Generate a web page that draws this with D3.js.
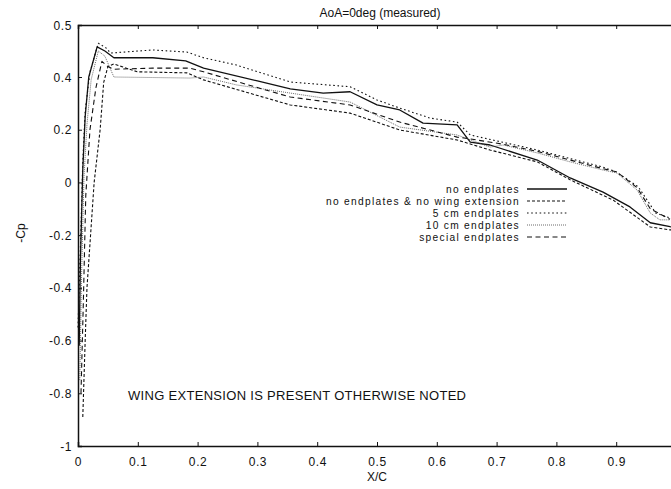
<!DOCTYPE html>
<html><head><meta charset="utf-8">
<script src="https://cdn.jsdelivr.net/npm/d3@7"></script>
<style>body{margin:0;background:#fff;} svg{display:block;} text{font-family:"Liberation Sans",Arial,sans-serif;fill:#111;}</style>
</head><body><div id="chart"></div>
<script>
// ---- data ----
const title = "AoA=0deg (measured)";
const xLabel = "X/C";
const yLabel = "-Cp";
const note = "WING EXTENSION IS PRESENT OTHERWISE NOTED";
const xTicks = [0, 0.1, 0.2, 0.3, 0.4, 0.5, 0.6, 0.7, 0.8, 0.9];
const xTickLabels = ["0", "0.1", "0.2", "0.3", "0.4", "0.5", "0.6", "0.7", "0.8", "0.9"];
const yTicks = [-1, -0.8, -0.6, -0.4, -0.2, 0, 0.2, 0.4, 0.5];
const yTickLabels = ["-1", "-0.8", "-0.6", "-0.4", "-0.2", "0", "0.2", "0.4", "0.5"];
const seriesNames = ["no endplates", "no endplates & no wing extension", "5 cm endplates", "10 cm endplates", "special endplates"];

const xNoEnd = [0.002, 0.004, 0.008, 0.012, 0.018, 0.032, 0.045, 0.06, 0.125, 0.18, 0.21, 0.3, 0.355, 0.41, 0.455, 0.5, 0.538, 0.577, 0.634, 0.656, 0.689, 0.768, 0.823, 0.878, 0.923, 0.957, 0.99, 1.0];
const cpNoEnd = [-0.62, -0.3, 0.05, 0.25, 0.40, 0.458, 0.45, 0.437, 0.437, 0.431, 0.417, 0.385, 0.355, 0.339, 0.344, 0.294, 0.275, 0.225, 0.218, 0.153, 0.142, 0.085, 0.017, -0.037, -0.093, -0.153, -0.168, -0.17];

const xNoExt = [0.008, 0.012, 0.015, 0.027, 0.037, 0.043, 0.05, 0.06, 0.099, 0.182, 0.21, 0.3, 0.355, 0.455, 0.538, 0.634, 0.689, 0.768, 0.823, 0.895, 0.957, 0.99, 1.0];
const cpNoExt = [-0.89, -0.6, -0.4, 0.0, 0.2, 0.38, 0.42, 0.425, 0.41, 0.408, 0.389, 0.33, 0.294, 0.263, 0.199, 0.161, 0.123, 0.078, 0.01, -0.067, -0.169, -0.18, -0.18];

const x5cm = [0.0, 0.004, 0.008, 0.012, 0.02, 0.034, 0.048, 0.054, 0.125, 0.182, 0.21, 0.265, 0.355, 0.455, 0.5, 0.538, 0.589, 0.634, 0.656, 0.768, 0.878, 0.9, 0.937, 0.966, 0.99, 1.0];
const cp5cm = [-0.55, -0.25, 0.08, 0.27, 0.41, 0.465, 0.455, 0.446, 0.452, 0.448, 0.437, 0.423, 0.381, 0.363, 0.313, 0.282, 0.244, 0.229, 0.18, 0.123, 0.058, 0.04, -0.017, -0.116, -0.135, -0.14];

const x10cm = [0.003, 0.006, 0.01, 0.015, 0.022, 0.034, 0.045, 0.06, 0.125, 0.187, 0.21, 0.265, 0.355, 0.455, 0.538, 0.634, 0.689, 0.711, 0.768, 0.823, 0.878, 0.901, 0.935, 0.957, 0.973, 0.99];
const cp10cm = [-0.75, -0.35, 0.02, 0.22, 0.39, 0.45, 0.44, 0.40, 0.398, 0.396, 0.40, 0.37, 0.339, 0.305, 0.21, 0.18, 0.134, 0.142, 0.112, 0.078, 0.047, 0.036, -0.029, -0.116, -0.142, -0.142];

const xSpecial = [0.005, 0.009, 0.013, 0.02, 0.03, 0.04, 0.05, 0.06, 0.125, 0.187, 0.21, 0.3, 0.355, 0.455, 0.538, 0.634, 0.656, 0.711, 0.768, 0.823, 0.878, 0.901, 0.935, 0.957, 0.99];
const cpSpecial = [-0.8, -0.45, -0.05, 0.2, 0.36, 0.43, 0.42, 0.415, 0.417, 0.417, 0.41, 0.36, 0.324, 0.294, 0.229, 0.172, 0.165, 0.145, 0.118, 0.085, 0.052, 0.04, -0.02, -0.1, -0.14];

const seriesX = [xNoEnd, xNoExt, x5cm, x10cm, xSpecial];
const seriesCp = [cpNoEnd, cpNoExt, cp5cm, cp10cm, cpSpecial];

// ---- layout / style ----
const W = 671, H = 489;
const dashes = [null, "3,2", "1.6,2.6", "1,1", "5,3.5"];
const widths = [1.3, 1.1, 1.1, 0.8, 1.1];
const colors = ["#111", "#111", "#111", "#444", "#111"];

const svg = d3.select("#chart").append("svg").attr("width", W).attr("height", H);

const x = d3.scaleLinear().domain([0, 1]).range([78, 676]);
// piecewise scale matching the printed axis (0.5 label sits one 0.2-step above 0.4)
const y = d3.scaleLinear().domain([-1, 0.4, 0.5]).range([446, 77, 25]);

const g = svg.append("g");

const bottomAxis = d3.axisBottom(x).tickValues(xTicks).tickFormat((d, i) => xTickLabels[i]).tickSize(-4).tickPadding(11);
const gb = g.append("g").attr("transform", `translate(0,${y(-1)})`).call(bottomAxis);
const topAxis = d3.axisTop(x).tickValues(xTicks.slice(1)).tickFormat("").tickSize(-4);
const gt = g.append("g").attr("transform", `translate(0,${y(0.5)})`).call(topAxis);
const leftAxis = d3.axisLeft(y).tickValues(yTicks).tickFormat((d, i) => yTickLabels[i]).tickSize(-4).tickPadding(6);
const gl = g.append("g").attr("transform", `translate(${x(0)},0)`).call(leftAxis);
[gb, gt, gl].forEach(a => {
  a.select(".domain").attr("stroke", "#111").attr("stroke-width", 1.5);
  a.selectAll(".tick line").attr("stroke", "#111").attr("stroke-width", 1);
  a.selectAll("text").attr("font-size", 12).attr("letter-spacing", 0.6).attr("fill", "#111").attr("font-family", "Liberation Sans, Arial, sans-serif");
});
gl.selectAll(".tick text").attr("dy", "0.34em");

// curves
const line = d3.line().x(d => x(d[0])).y(d => y(d[1]));
seriesNames.forEach((name, i) => {
  const pts = seriesX[i].map((v, k) => [v, seriesCp[i][k]]);
  g.append("path").datum(pts).attr("d", line)
    .attr("fill", "none").attr("stroke", colors[i]).attr("stroke-width", widths[i])
    .attr("stroke-dasharray", dashes[i]).attr("stroke-linejoin", "round");
});

// legend
const lg = svg.append("g");
seriesNames.forEach((name, i) => {
  const yy = 189 + i * 12;
  lg.append("text").attr("x", 520).attr("y", yy).attr("dy", "0.35em").attr("text-anchor", "end")
    .attr("font-size", 10.2).attr("letter-spacing", 1.3).text(name);
  lg.append("line").attr("x1", 527).attr("x2", 567).attr("y1", yy).attr("y2", yy)
    .attr("stroke", colors[i]).attr("stroke-width", widths[i]).attr("stroke-dasharray", dashes[i]);
});

// texts
svg.append("text").attr("x", 380).attr("y", 13).attr("dy", "0.35em").attr("text-anchor", "middle").attr("font-size", 12).text(title);
svg.append("text").attr("x", 377).attr("y", 477).attr("dy", "0.35em").attr("text-anchor", "middle").attr("font-size", 12).text(xLabel);
svg.append("text").attr("transform", "translate(21,233) rotate(-90)").attr("text-anchor", "middle").attr("dy", "0.35em").attr("font-size", 12).text(yLabel);
svg.append("text").attr("x", 128).attr("y", 395).attr("dy", "0.35em").attr("font-size", 13).attr("letter-spacing", 0.3).text(note);
</script></body></html>
